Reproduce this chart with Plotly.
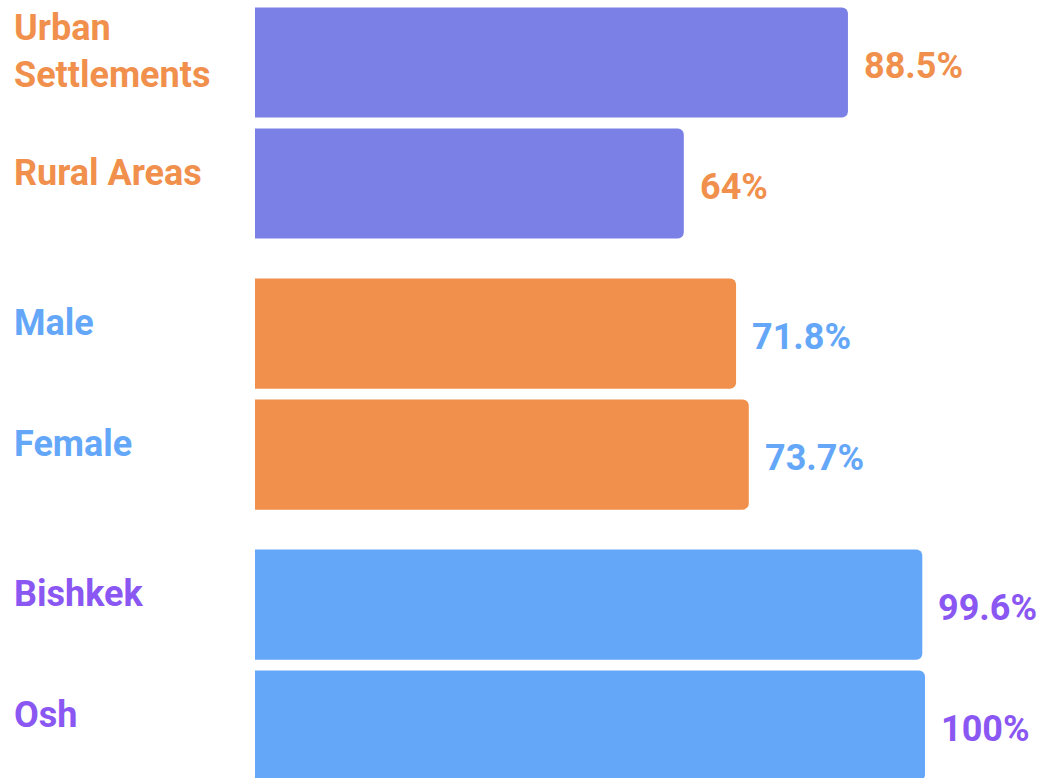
import plotly.graph_objects as go

categories = ["Urban<br>Settlements", "Rural Areas", "Male", "Female", "Bishkek", "Osh"]
values = [88.5, 64, 71.8, 73.7, 99.6, 100]
value_labels = ["88.5%", "64%", "71.8%", "73.7%", "99.6%", "100%"]
groups = [0, 0, 1, 1, 2, 2]

bar_colors = ["#7B80E6", "#F0904C", "#64A7F9"]
label_colors = ["#F0904C", "#64A7F9", "#8A57F2"]

# vertical positions: one unit per bar, extra gap between groups
positions = [i + g * 0.24 for i, g in enumerate(groups)]

fig = go.Figure()
fig.add_trace(go.Bar(
    x=values,
    y=positions,
    orientation="h",
    width=0.91,
    marker=dict(color=[bar_colors[g] for g in groups], cornerradius=6, line=dict(width=0)),
    hoverinfo="skip",
))

FONT = "Roboto"
FS = 36

annotations = []
for cat, pos, g in zip(categories, positions, groups):
    annotations.append(dict(
        x=12 / 1041, xref="paper", y=pos, yref="y",
        text=cat, showarrow=False, xanchor="left", yanchor="middle", align="left",
        yshift=11,
        font=dict(family=FONT, size=FS, color=label_colors[g], weight=700),
    ))
for v, lab, pos, g in zip(values, value_labels, positions, groups):
    annotations.append(dict(
        x=v, xref="x", y=pos, yref="y",
        text=lab, showarrow=False, xanchor="left", yanchor="middle",
        xshift=14, yshift=-3,
        font=dict(family=FONT, size=FS, color=label_colors[g], weight=700),
    ))

fig.update_layout(
    width=1041, height=778,
    margin=dict(l=0, r=0, t=0, b=0),
    paper_bgcolor="white", plot_bgcolor="white",
    showlegend=False,
    xaxis=dict(domain=[255 / 1041, 1], range=[0, 786 / 670 * 100], visible=False, fixedrange=True),
    yaxis=dict(range=[5.913, -0.517], visible=False, fixedrange=True),
    annotations=annotations,
)

fig.write_html("out.html", config={"displayModeBar": False})
